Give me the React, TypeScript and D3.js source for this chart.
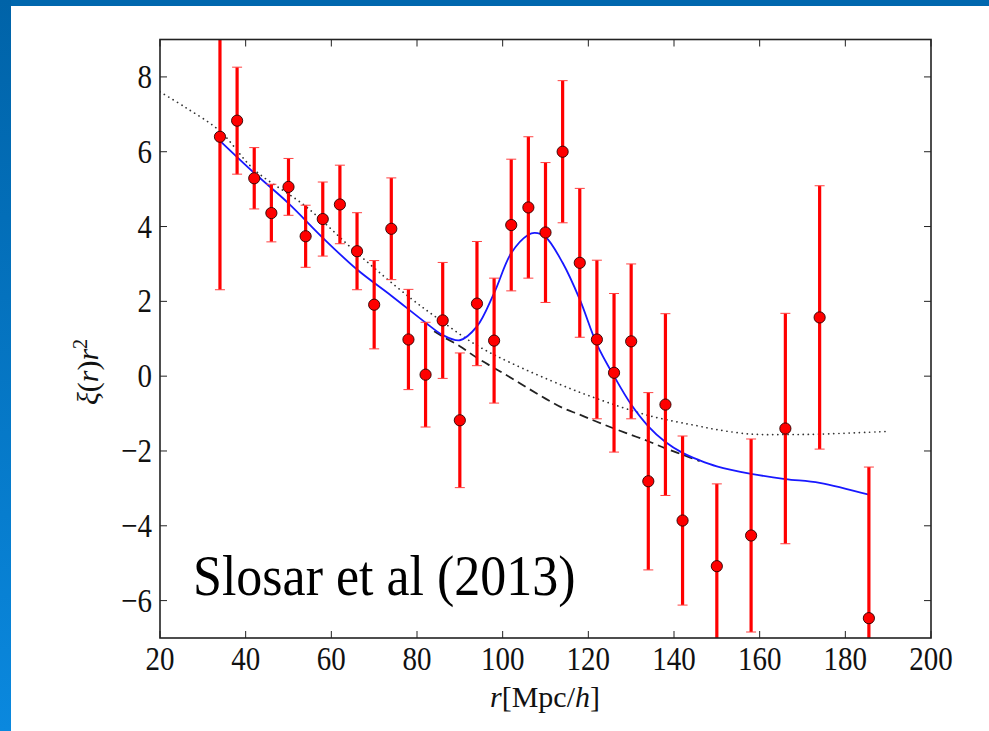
import React from "react";
import * as d3 from "d3";

// ---- data ----
const rBins = [34, 38, 42, 46, 50, 54, 58, 62, 66, 70, 74, 78, 82, 86, 90, 94, 98, 102, 106, 110, 114, 118, 122, 126, 130, 134, 138, 142, 150, 158, 166, 174, 185.5];
const xiVals = [6.40, 6.83, 5.29, 4.36, 5.06, 3.74, 4.20, 4.59, 3.34, 1.91, 3.94, 0.98, 0.04, 1.49, -1.18, 1.94, 0.95, 4.04, 4.51, 3.84, 6.00, 3.03, 0.98, 0.09, 0.93, -2.81, -0.76, -3.86, -5.08, -4.26, -1.40, 1.57, -6.47];
const errVals = [4.09, 1.43, 0.82, 0.77, 0.76, 0.83, 0.99, 1.05, 1.03, 1.18, 1.36, 1.34, 1.40, 1.55, 1.80, 1.66, 1.67, 1.76, 1.89, 1.87, 1.90, 1.99, 2.12, 2.12, 2.07, 2.37, 2.43, 2.26, 2.20, 2.58, 3.08, 3.52, 4.04];

// BAO model (blue)
const modelR = [34, 42, 50, 58, 66, 74, 82, 86, 90, 94, 98, 102, 106, 107.5, 110, 114, 118, 122, 126, 130, 134, 138, 142, 146, 150, 158, 166, 174, 185.5];
const modelVals = [6.29, 5.43, 4.62, 3.70, 2.85, 2.15, 1.43, 1.10, 0.96, 1.33, 2.22, 3.29, 3.78, 3.83, 3.72, 3.03, 2.05, 0.85, 0.0, -0.76, -1.34, -1.76, -2.05, -2.25, -2.41, -2.61, -2.75, -2.85, -3.17];

// no-wiggle model (dashed)
const noWiggleR = [84, 86, 90, 94, 98, 102, 106, 110, 114, 118, 122, 126, 130, 134, 138, 142, 146];
const noWiggleVals = [1.20, 1.06, 0.80, 0.49, 0.22, -0.05, -0.33, -0.60, -0.85, -1.03, -1.22, -1.40, -1.57, -1.74, -1.93, -2.10, -2.27];

// no-BAO fit (dotted)
const dottedR = [20, 26, 34, 42, 54, 66, 78, 86, 94, 102, 114, 122, 134, 146, 150, 158, 166, 174, 189.5];
const dottedVals = [7.60, 7.18, 6.55, 5.52, 4.54, 3.29, 2.13, 1.45, 0.82, 0.35, -0.25, -0.60, -1.05, -1.34, -1.43, -1.55, -1.56, -1.55, -1.48];

const xTicks = [20, 40, 60, 80, 100, 120, 140, 160, 180, 200];
const yTicks = [-6, -4, -2, 0, 2, 4, 6, 8];

const W = 989;
const H = 731;
const X0 = 160, X1 = 931, Y0 = 39.5, Y1 = 638;

const fmt = (v: number) => (v < 0 ? "\u2212" + Math.abs(v) : String(v));

export default function App() {
  const x = d3.scaleLinear().domain([20, 200]).range([X0, X1]);
  const y = d3.scaleLinear().domain([-7, 9]).range([Y1, Y0]);

  const curve = d3
    .line<[number, number]>()
    .x((d) => x(d[0]))
    .y((d) => y(d[1]))
    .curve(d3.curveCatmullRom.alpha(0.5));

  const model = curve(modelR.map((r, i) => [r, modelVals[i]] as [number, number])) || "";
  const noWiggle = curve(noWiggleR.map((r, i) => [r, noWiggleVals[i]] as [number, number])) || "";
  const dotted = curve(dottedR.map((r, i) => [r, dottedVals[i]] as [number, number])) || "";

  const serif = "'Liberation Serif', 'DejaVu Serif', serif";
  const tickLen = 7;

  return (
    <svg
      width={W}
      height={H}
      style={{ position: "absolute", left: 0, top: 0, background: "#fff" }}
      fontFamily={serif}
    >
      <defs>
        <linearGradient id="sidebar" x1="0" y1="0" x2="0" y2="1">
          <stop offset="0" stopColor="#0063a8" />
          <stop offset="1" stopColor="#0a88de" />
        </linearGradient>
        <clipPath id="plotclip">
          <rect x={X0} y={Y0} width={X1 - X0} height={Y1 - Y0} />
        </clipPath>
      </defs>
      <rect x={0} y={0} width={W} height={H} fill="#ffffff" />
      <rect x={0} y={0} width={W} height={6} fill="#0067ae" />
      <rect x={0} y={0} width={11} height={H} fill="url(#sidebar)" />

      <g clipPath="url(#plotclip)">
        <path d={dotted} fill="none" stroke="#333" strokeWidth={1.7} strokeDasharray="0.1,5" strokeLinecap="round" />
        <path d={noWiggle} fill="none" stroke="#222" strokeWidth={1.8} strokeDasharray="9,5" />
        <path d={model} fill="none" stroke="#1818ff" strokeWidth={1.8} />
        {rBins.map((r, i) => {
          const cx = x(r);
          const top = y(xiVals[i] + errVals[i]);
          const bot = y(xiVals[i] - errVals[i]);
          return (
            <g key={"e" + i}>
              <line x1={cx} x2={cx} y1={top} y2={bot} stroke="#ff0000" strokeWidth={3.2} />
              <line x1={cx - 5} x2={cx + 5} y1={top} y2={top} stroke="#ff4040" strokeWidth={1} />
              <line x1={cx - 5} x2={cx + 5} y1={bot} y2={bot} stroke="#ff4040" strokeWidth={1} />
            </g>
          );
        })}
        {rBins.map((r, i) => (
          <circle key={"c" + i} cx={x(r)} cy={y(xiVals[i])} r={5.6} fill="#ff0000" stroke="#2a0000" strokeWidth={0.9} />
        ))}
      </g>

      {/* ticks */}
      {xTicks.map((t) => (
        <g key={"xt" + t}>
          <line x1={x(t)} x2={x(t)} y1={Y1} y2={Y1 - tickLen} stroke="#222" strokeWidth={1} />
          <line x1={x(t)} x2={x(t)} y1={Y0} y2={Y0 + tickLen} stroke="#222" strokeWidth={1} />
          <text
            transform={`translate(${x(t)},${Y1 + 32}) scale(1,1.15)`}
            textAnchor="middle"
            fontSize={29}
            fill="#111"
          >
            {fmt(t)}
          </text>
        </g>
      ))}
      {yTicks.map((t) => (
        <g key={"yt" + t}>
          <line x1={X0} x2={X0 + tickLen} y1={y(t)} y2={y(t)} stroke="#222" strokeWidth={1} />
          <line x1={X1} x2={X1 - tickLen} y1={y(t)} y2={y(t)} stroke="#222" strokeWidth={1} />
          <text
            transform={`translate(${X0 - 8},${y(t) + 11}) scale(1,1.15)`}
            textAnchor="end"
            fontSize={29}
            fill="#111"
          >
            {fmt(t)}
          </text>
        </g>
      ))}

      <rect x={X0} y={Y0} width={X1 - X0} height={Y1 - Y0} fill="none" stroke="#222" strokeWidth={1.6} />

      {/* axis labels */}
      <text x={545} y={707} textAnchor="middle" fontSize={30} fill="#111">
        <tspan fontStyle="italic">r</tspan>[Mpc/<tspan fontStyle="italic">h</tspan>]
      </text>
      <text transform="translate(98,372) rotate(-90)" textAnchor="middle" fontSize={30} fill="#111">
        <tspan fontStyle="italic">ξ</tspan>(<tspan fontStyle="italic">r</tspan>)<tspan fontStyle="italic">r</tspan>
        <tspan fontSize={20} dy={-11}>2</tspan>
      </text>

      <text transform="translate(193,595) scale(1,1.08)" fontSize={52} fill="#000">
        Slosar et al (2013)
      </text>
    </svg>
  );
}
